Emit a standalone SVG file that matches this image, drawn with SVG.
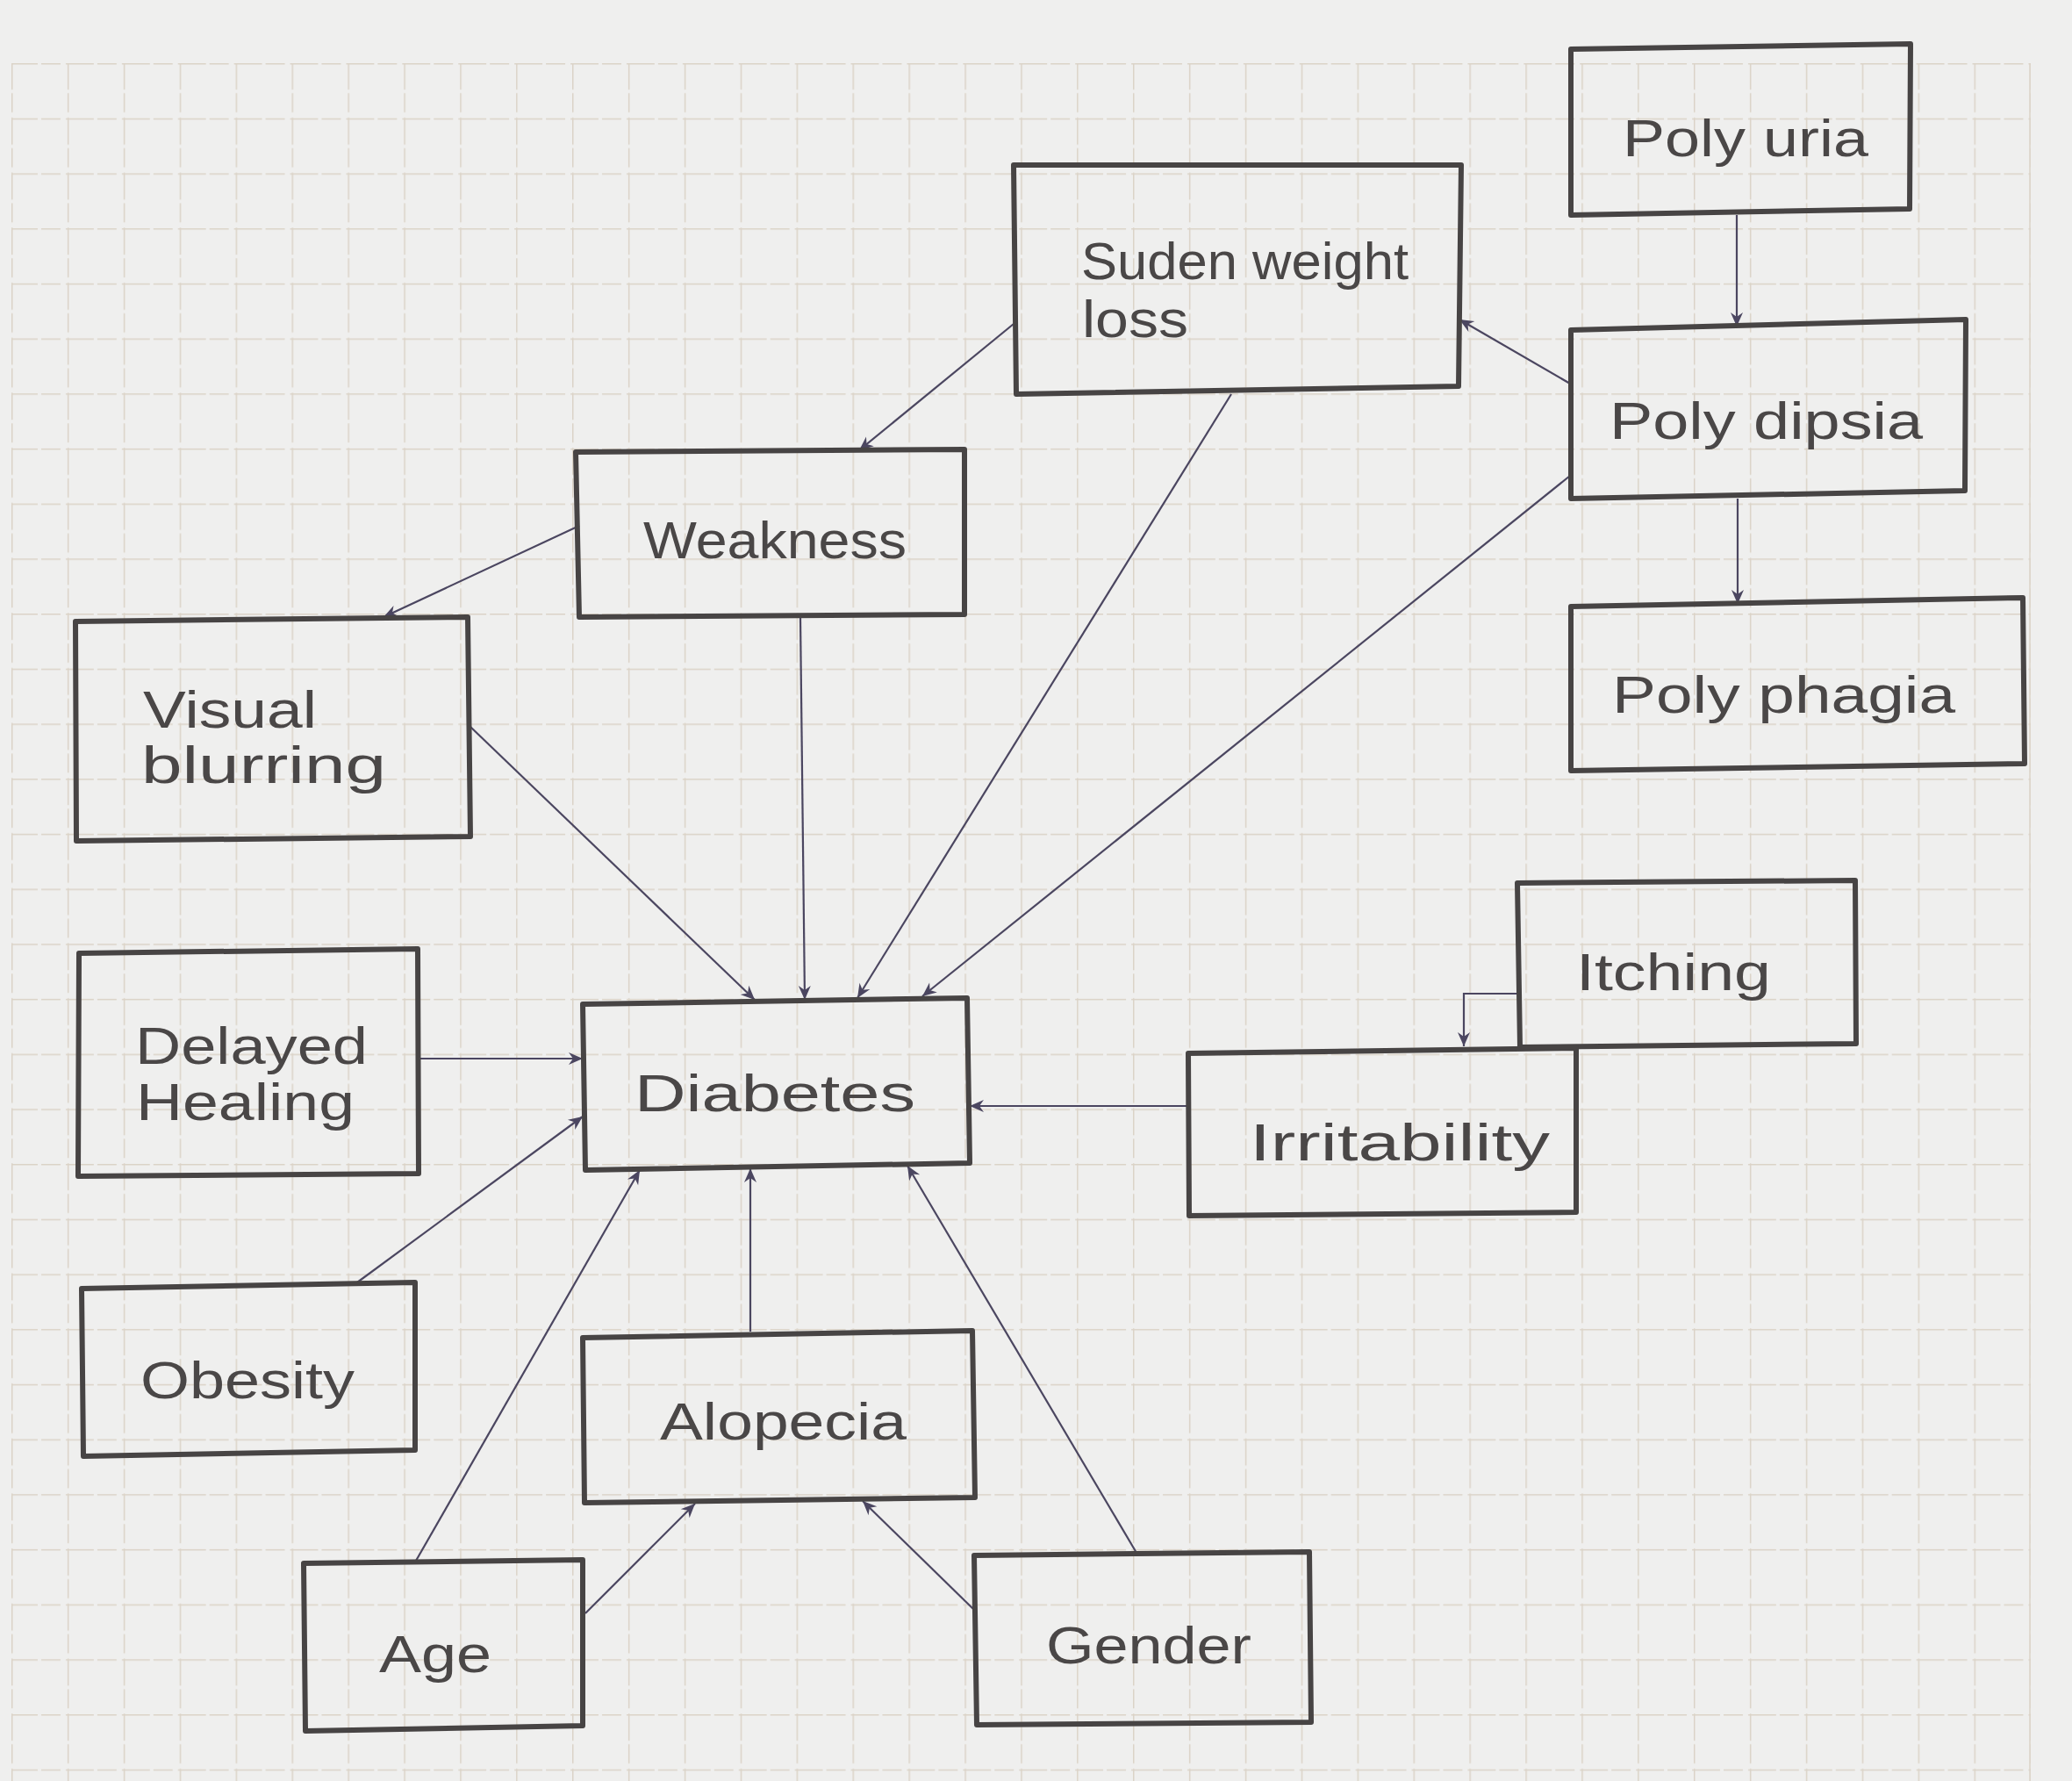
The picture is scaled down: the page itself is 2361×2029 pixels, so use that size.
<svg xmlns="http://www.w3.org/2000/svg" width="2361" height="2029" viewBox="0 0 2361 2029">
<defs>
<pattern id="grid" patternUnits="userSpaceOnUse" x="13" y="72" width="63.9" height="62.7">
<path d="M0,0 H63.9 M0,0 V62.7" fill="none" stroke="#dbd3c7" stroke-width="3" stroke-dasharray="30 4 22 6"/>
</pattern>
<marker id="arr" markerWidth="20" markerHeight="18" refX="17" refY="9" orient="auto" markerUnits="userSpaceOnUse">
<path d="M1,2 L17,9 L1,16 L6,9 z" fill="#4b4660"/>
</marker>
<style>
.box{fill:none;stroke:#474444;stroke-width:6;stroke-linejoin:round;stroke-linecap:round}
.lbl{font-family:"Liberation Sans",Arial,sans-serif;fill:#4a4747;font-size:60px}
.con{fill:none;stroke:#4b4660;stroke-width:2.2;marker-end:url(#arr)}
</style>
</defs>
<rect width="2361" height="2029" fill="#efefee"/>
<rect x="13" y="72" width="2301" height="1957" fill="url(#grid)"/>
<line x1="2313" y1="72" x2="2313" y2="2029" stroke="#dbd3c7" stroke-width="1.5"/>

<g id="connectors">
<path class="con" d="M1979,245 L1979,372"/>
<path class="con" d="M1980,568 L1980,688"/>
<path class="con" d="M1789,437 L1663,364"/>
<path class="con" d="M1155,369 L979,513"/>
<path class="con" d="M660,599 L437,703"/>
<path class="con" d="M912,703 L917,1139"/>
<path class="con" d="M536,828 L860,1139"/>
<path class="con" d="M1403,449 L977,1137"/>
<path class="con" d="M1789,542 L1051,1135"/>
<path class="con" d="M477,1206 L664,1206"/>
<path class="con" d="M407,1461 L664,1272"/>
<path class="con" d="M1354,1260 L1105,1260"/>
<path class="con" d="M1729,1132 L1668,1132 L1668,1192"/>
<path class="con" d="M855,1517 L855,1331"/>
<path class="con" d="M474,1778 L729,1333"/>
<path class="con" d="M667,1838 L792,1713"/>
<path class="con" d="M1110,1834 L983,1710"/>
<path class="con" d="M1295,1769 L1034,1328"/>
</g>

<g id="polyuria">
<polygon class="box" points="1790,56 2177,50 2176,238 1790,245"/>
<text class="lbl" x="1849" y="178" font-size="64" textLength="280" lengthAdjust="spacingAndGlyphs">Poly uria</text>
</g>
<g id="sudenweightloss">
<polygon class="box" points="1155,188 1665,188 1662,440 1158,449"/>
<text class="lbl" x="1232" y="318" font-size="50" textLength="373" lengthAdjust="spacingAndGlyphs">Suden weight</text>
<text class="lbl" x="1233" y="384" font-size="50" textLength="121" lengthAdjust="spacingAndGlyphs">loss</text>
</g>
<g id="polydipsia">
<polygon class="box" points="1790,376 2240,364 2239,559 1790,568"/>
<text class="lbl" x="1834" y="500" font-size="64" textLength="357" lengthAdjust="spacingAndGlyphs">Poly dipsia</text>
</g>
<g id="weakness">
<polygon class="box" points="656,515 1099,512 1099,700 660,703"/>
<text class="lbl" x="733" y="636" font-size="58" textLength="300" lengthAdjust="spacingAndGlyphs">Weakness</text>
</g>
<g id="polyphagia">
<polygon class="box" points="1790,691 2305,681 2307,870 1790,878"/>
<text class="lbl" x="1837" y="812" font-size="64" textLength="391" lengthAdjust="spacingAndGlyphs">Poly phagia</text>
</g>
<g id="visualblurring">
<polygon class="box" points="86,708 533,703 536,953 87,958"/>
<text class="lbl" x="163" y="829" font-size="54" textLength="198" lengthAdjust="spacingAndGlyphs">Visual</text>
<text class="lbl" x="161" y="892" font-size="54" textLength="279" lengthAdjust="spacingAndGlyphs">blurring</text>
</g>
<g id="itching">
<polygon class="box" points="1729,1006 2114,1003 2115,1189 1732,1193"/>
<text class="lbl" x="1796" y="1128" font-size="60" textLength="222" lengthAdjust="spacingAndGlyphs">Itching</text>
</g>
<g id="delayedhealing">
<polygon class="box" points="90,1086 476,1081 477,1337 89,1340"/>
<text class="lbl" x="154" y="1212" font-size="56" textLength="265" lengthAdjust="spacingAndGlyphs">Delayed</text>
<text class="lbl" x="155" y="1276" font-size="56" textLength="249" lengthAdjust="spacingAndGlyphs">Healing</text>
</g>
<g id="diabetes">
<polygon class="box" points="664,1144 1102,1137 1105,1325 667,1333"/>
<text class="lbl" x="723" y="1266" font-size="68" textLength="320" lengthAdjust="spacingAndGlyphs">Diabetes</text>
</g>
<g id="irritability">
<polygon class="box" points="1354,1200 1796,1194 1796,1381 1355,1385"/>
<text class="lbl" x="1424" y="1322" font-size="58" textLength="342" lengthAdjust="spacingAndGlyphs">Irritability</text>
</g>
<g id="obesity">
<polygon class="box" points="93,1468 473,1461 473,1652 95,1659"/>
<text class="lbl" x="160" y="1593" font-size="58" textLength="244" lengthAdjust="spacingAndGlyphs">Obesity</text>
</g>
<g id="alopecia">
<polygon class="box" points="664,1524 1108,1516 1111,1706 666,1712"/>
<text class="lbl" x="752" y="1640" font-size="60" textLength="281" lengthAdjust="spacingAndGlyphs">Alopecia</text>
</g>
<g id="age">
<polygon class="box" points="346,1781 664,1777 664,1966 348,1972"/>
<text class="lbl" x="432" y="1905" font-size="60" textLength="128" lengthAdjust="spacingAndGlyphs">Age</text>
</g>
<g id="gender">
<polygon class="box" points="1110,1772 1492,1768 1494,1962 1113,1965"/>
<text class="lbl" x="1192" y="1895" font-size="58" textLength="234" lengthAdjust="spacingAndGlyphs">Gender</text>
</g>
</svg>
